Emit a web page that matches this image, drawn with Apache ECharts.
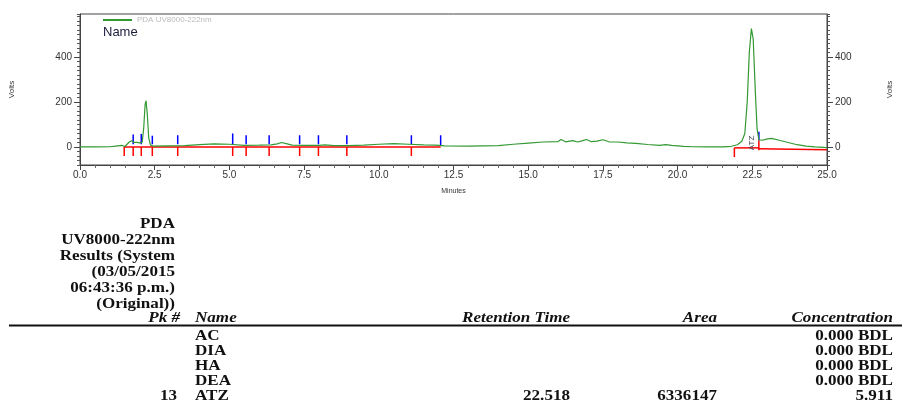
<!DOCTYPE html>
<html>
<head>
<meta charset="utf-8">
<script src="https://cdn.jsdelivr.net/npm/echarts@6/dist/echarts.min.js"></script>
<style>
  html, body { margin: 0; padding: 0; background: #fff; }
  #chart { width: 902px; height: 402px; }
</style>
</head>
<body>
<div id="chart"></div>
<script>
// chromatogram trace [minutes, volts]
const trace = [
  [0.0, 0], [0.5, 0], [1.0, 1], [1.2, 4], [1.4, 7], [1.5, 2], [1.55, 8], [1.65, 22],
  [1.72, 28], [1.8, 20], [1.9, 20], [2.0, 18], [2.08, 20], [2.13, 80], [2.18, 190],
  [2.21, 205], [2.25, 150], [2.3, 40], [2.36, 8], [2.45, 4], [3.0, 5], [3.5, 6],
  [4.0, 10], [4.5, 14], [5.0, 12], [5.5, 7], [6.0, 8], [6.4, 9], [6.6, 14], [6.75, 20],
  [6.9, 15], [7.1, 8], [7.5, 7], [8.0, 7], [8.2, 9], [8.5, 6], [9.0, 6], [9.5, 8],
  [10.0, 12], [10.5, 15], [11.0, 12], [11.5, 9], [11.9, 8], [12.2, 5], [13.0, 4],
  [14.0, 6], [14.5, 12], [15.0, 17], [15.5, 22], [16.0, 24], [16.1, 33], [16.25, 23],
  [16.5, 28], [16.65, 22], [16.8, 27], [16.95, 33], [17.1, 24], [17.3, 26], [17.5, 32],
  [17.7, 23], [18.0, 22], [18.3, 18], [18.6, 16], [19.0, 11], [19.4, 7], [19.6, 10],
  [19.8, 7], [20.2, 3], [20.5, 1], [21.0, 0], [21.5, 0], [21.8, 3], [22.0, 10],
  [22.15, 25], [22.25, 60], [22.33, 200], [22.4, 420], [22.47, 525], [22.53, 480],
  [22.6, 250], [22.66, 80], [22.72, 32], [22.85, 30], [23.0, 36], [23.15, 38],
  [23.4, 30], [23.7, 20], [24.0, 10], [24.3, 4], [24.6, 0], [25.0, -3]
];

// integration events [minutes, from, to]
const redMarks = [
  [1.48, 0, -40], [1.78, 0, -40], [2.05, 0, -40], [2.42, 0, -40], [3.27, 0, -40],
  [5.11, 0, -40], [5.56, 0, -40], [6.33, 0, -40], [7.35, 0, -40], [7.98, 0, -40],
  [8.93, 0, -40], [11.09, 0, -40], [21.9, -4, -45], [22.72, 30, -15]
];
const blueMarks = [
  [1.78, 12, 55], [2.05, 12, 58], [2.42, 12, 50], [3.27, 12, 52], [5.11, 12, 60],
  [5.56, 12, 52], [6.33, 12, 52], [7.35, 12, 52], [7.98, 12, 52], [8.93, 12, 52],
  [11.09, 12, 52], [12.07, 8, 52], [22.72, 30, 68]
];
// baselines [x1, y1, x2, y2]
const baselines = [
  [1.48, 0, 12.07, 0], [21.9, -4, 22.72, -4], [22.72, -8, 25, -12]
];

// results table
const titleLines = ['PDA', 'UV8000-222nm', 'Results (System', '(03/05/2015', '06:43:36 p.m.)', '(Original))'];
const colHeaders = ['Pk #', 'Name', 'Retention Time', 'Area', 'Concentration'];
const pkNums = ['', '', '', '', '13'];
const names = ['AC', 'DIA', 'HA', 'DEA', 'ATZ'];
const retTimes = ['', '', '', '', '22.518'];
const areas = ['', '', '', '', '6336147'];
const concs = ['0.000 BDL', '0.000 BDL', '0.000 BDL', '0.000 BDL', '5.911'];

const chart = echarts.init(document.getElementById('chart'));

const tickSeries = (data, color) => ({
  type: 'custom',
  yAxisIndex: 0,
  silent: true,
  data: data,
  renderItem: function (params, api) {
    const a = api.coord([api.value(0), api.value(1)]);
    const b = api.coord([api.value(0), api.value(2)]);
    return {type: 'line', shape: {x1: a[0], y1: a[1], x2: b[0], y2: b[1]},
      style: {stroke: color, lineWidth: 1.5}};
  }
});

const serif = '"Liberation Serif", "DejaVu Serif", serif';
const txt = (text, x, y, align, italic) => ({
  type: 'text', x: x, y: y, scaleX: 1.22, silent: true,
  style: {text: text, x: 0, y: 0, align: align, verticalAlign: 'middle',
    font: (italic ? 'italic ' : '') + 'bold 14px ' + serif, fill: '#111'}
});

const graphics = [];
titleLines.forEach((t, i) => graphics.push(txt(t, 175, 224 + i * 16, 'right')));
const headerX = [180, 195, 570, 717, 893];
const headerAlign = ['right', 'left', 'right', 'right', 'right'];
colHeaders.forEach((h, i) => graphics.push(txt(h, headerX[i], 318, headerAlign[i], true)));
graphics.push({type: 'line', silent: true, shape: {x1: 9, y1: 325.5, x2: 902, y2: 325.5},
  style: {stroke: '#111', lineWidth: 2}});
names.forEach((n, i) => {
  const y = 336 + i * 15;
  if (pkNums[i]) graphics.push(txt(pkNums[i], 177, y, 'right'));
  graphics.push(txt(n, 195, y, 'left'));
  if (retTimes[i]) graphics.push(txt(retTimes[i], 570, y, 'right'));
  if (areas[i]) graphics.push(txt(areas[i], 717, y, 'right'));
  graphics.push(txt(concs[i], 893, y, 'right'));
});

const labelStyle = {color: '#333', fontSize: 10, fontFamily: 'Liberation Sans, Arial'};
const baseY = {
  type: 'value', min: -80, max: 590, interval: 20,
  name: 'Volts', nameLocation: 'middle', nameRotate: 90,
  nameTextStyle: {fontSize: 8, color: '#333'},
  axisLine: {show: true, onZero: false, lineStyle: {color: '#444'}},
  axisTick: {show: true, length: 3, lineStyle: {color: '#555'}},
  axisLabel: Object.assign({customValues: [0, 200, 400], margin: 8}, labelStyle),
  splitLine: {show: false}
};
const majorY = {
  type: 'value', min: -80, max: 590,
  axisLine: {show: false, onZero: false},
  axisTick: {show: true, length: 6, customValues: [0, 200, 400], lineStyle: {color: '#444'}},
  axisLabel: {show: false},
  splitLine: {show: false}
};

option = {
  animation: false,
  backgroundColor: '#fff',
  title: {
    text: 'Name', left: 98, top: 21,
    textStyle: {fontSize: 13, fontWeight: 'normal', color: '#1b1b3b', fontFamily: 'Liberation Sans, Arial'}
  },
  legend: {
    left: 98, top: 11, itemWidth: 29, itemHeight: 2, itemGap: 4,
    data: [{name: 'PDA UV8000-222nm', icon: 'rect'}],
    textStyle: {fontSize: 8, color: '#bbb', fontFamily: 'Liberation Sans, Arial'}
  },
  grid: {
    left: 79, right: 73, top: 14, bottom: 237,
    show: true, borderColor: '#444', borderWidth: 1
  },
  xAxis: {
    type: 'value', min: 0, max: 25, interval: 2.5,
    name: 'Minutes', nameLocation: 'middle', nameGap: 23,
    nameTextStyle: {fontSize: 7, color: '#333'},
    axisLine: {show: true, onZero: false, lineStyle: {color: '#444'}},
    axisTick: {show: true, length: 5, lineStyle: {color: '#444'}},
    minorTick: {show: true, splitNumber: 5, length: 3, lineStyle: {color: '#666'}},
    axisLabel: Object.assign({margin: 5, formatter: v => v.toFixed(1)}, labelStyle),
    splitLine: {show: false}
  },
  yAxis: [
    Object.assign({}, baseY, {position: 'left', nameGap: 64}),
    Object.assign({}, baseY, {position: 'right', nameGap: 59}),
    Object.assign({}, majorY, {position: 'left'}),
    Object.assign({}, majorY, {position: 'right'})
  ],
  series: [
    {
      name: 'PDA UV8000-222nm',
      type: 'line',
      yAxisIndex: 0,
      showSymbol: false,
      data: trace,
      color: '#339933',
      lineStyle: {width: 1.2, color: '#339933'},
      z: 3,
      markPoint: {
        symbol: 'circle', symbolSize: 0, silent: true,
        label: {show: true, formatter: '{b}', rotate: 90, fontSize: 8, color: '#445', position: 'inside'},
        data: names.filter((n, i) => retTimes[i]).map(n => ({name: n, coord: [parseFloat(retTimes[names.indexOf(n)]) - 0.03, 18]}))
      }
    },
    {
      type: 'custom', yAxisIndex: 0, silent: true, data: baselines, z: 2,
      renderItem: function (params, api) {
        const a = api.coord([api.value(0), api.value(1)]);
        const b = api.coord([api.value(2), api.value(3)]);
        return {type: 'line', shape: {x1: a[0], y1: a[1], x2: b[0], y2: b[1]},
          style: {stroke: '#ff0000', lineWidth: 1.5}};
      }
    },
    tickSeries(redMarks, '#ff0000'),
    tickSeries(blueMarks, '#0000ff')
  ],
  graphic: graphics
};

chart.setOption(option);
</script>
</body>
</html>
